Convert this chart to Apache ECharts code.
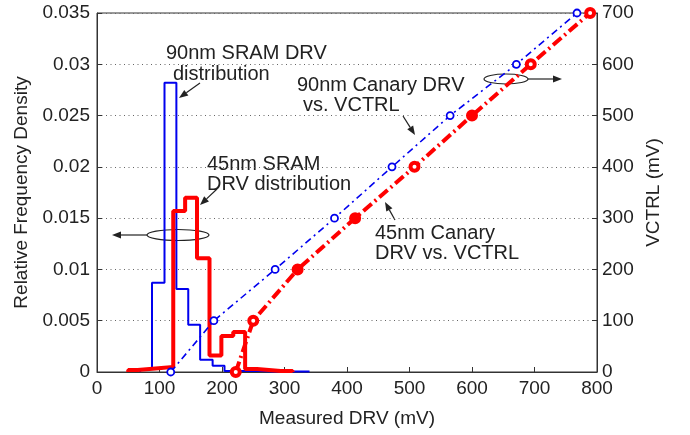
<!DOCTYPE html>
<html>
<head>
<meta charset="utf-8">
<script src="https://cdn.jsdelivr.net/npm/echarts@6/dist/echarts.min.js"></script>
<style>
  html, body { margin: 0; padding: 0; background: #fff; }
  #chart { width: 690px; height: 435px; }
</style>
</head>
<body>
<div id="chart"></div>
<script>
// histogram bins (mV edges) and relative frequency density
const blueEdges = [69, 88, 108, 127, 146, 165, 185, 204, 223, 242, 262, 281, 300, 320, 340];
const blueDensity = [0.0003, 0.0087, 0.0282, 0.0081, 0.0046, 0.0012, 0.0006, 0.0001, 0.0001, 0.0001, 0.00005, 0.00005, 0.00005, 0.00005];
const redEdges = [50, 65, 84, 103, 122, 141, 160, 180, 199, 218, 237, 256, 275, 294, 313];
const redDensity = [0.0002, 0.0003, 0.0004, 0.0005, 0.0157, 0.0170, 0.0111, 0.0016, 0.0035, 0.0039, 0.0003, 0.0002, 0.0001, 0.0001];

// canary DRV vs VCTRL
const vctrlLevels = [0, 100, 200, 300, 400, 500, 600, 700];
const blueCanaryDrv = [118, 187, 285, 380, 472, 565, 671, 768];
const redCanaryDrv = [222, 250, 321, 413, 508, 600, 694, 789];
const redFilledIdx = [2, 3, 5];

const FONT = 'Liberation Sans';
const TXT = '#222';

function stepPoints(edges, vals) {
  const pts = [[edges[0], 0]];
  vals.forEach((v, i) => pts.push([edges[i], v]));
  pts.push([edges[edges.length - 1], vals[vals.length - 1]]);
  pts.push([edges[edges.length - 1], 0]);
  return pts;
}

function arrow(x1, y1, x2, y2) {
  const a = Math.atan2(y2 - y1, x2 - x1);
  const L = 9, W = 3.5;
  const bx = x2 - L * Math.cos(a), by = y2 - L * Math.sin(a);
  const px = -Math.sin(a) * W, py = Math.cos(a) * W;
  return [
    { type: 'line', shape: { x1: x1, y1: y1, x2: bx, y2: by }, style: { stroke: '#222', lineWidth: 1.2 } },
    { type: 'polygon', shape: { points: [[x2, y2], [bx + px, by + py], [bx - px, by - py]] }, style: { fill: '#222' } }
  ];
}

function label(text, x, y, align) {
  return {
    type: 'text', x: x, y: y,
    style: { text: text, font: '20px ' + FONT, fill: TXT, align: align || 'left', verticalAlign: 'middle' }
  };
}

const chart = echarts.init(document.getElementById('chart'));

chart.setOption({
  animation: false,
  backgroundColor: '#fff',
  grid: { left: 97, right: 93, top: 13, bottom: 63, show: true, borderColor: '#333', borderWidth: 1 },
  xAxis: {
    type: 'value', min: 0, max: 800, interval: 100,
    name: 'Measured DRV (mV)', nameLocation: 'middle', nameGap: 37,
    nameTextStyle: { fontFamily: FONT, fontSize: 19, color: TXT },
    axisLine: { lineStyle: { color: '#333' } },
    axisTick: { inside: true, length: 5, lineStyle: { color: '#333' } },
    axisLabel: { fontFamily: FONT, fontSize: 19, color: TXT, margin: 7 },
    splitLine: { show: false }
  },
  yAxis: [{
    type: 'value', min: 0, max: 0.035, interval: 0.005,
    name: 'Relative Frequency Density', nameLocation: 'middle', nameGap: 66,
    nameTextStyle: { fontFamily: FONT, fontSize: 19, color: TXT },
    axisLine: { show: true, lineStyle: { color: '#333' } },
    axisTick: { show: true, inside: true, length: 5, lineStyle: { color: '#333' } },
    axisLabel: { fontFamily: FONT, fontSize: 19, color: TXT, margin: 7 },
    splitLine: { show: true, lineStyle: { color: '#666', type: [1, 3.5], width: 1 } }
  }, {
    type: 'value', min: 0, max: 700, interval: 100, position: 'right',
    name: 'VCTRL (mV)', nameLocation: 'middle', nameGap: 47,
    nameTextStyle: { fontFamily: FONT, fontSize: 19, color: TXT },
    axisLine: { show: true, lineStyle: { color: '#333' } },
    axisTick: { show: true, inside: true, length: 5, lineStyle: { color: '#333' } },
    axisLabel: { fontFamily: FONT, fontSize: 19, color: TXT, margin: 5 },
    splitLine: { show: false }
  }],
  series: [{
    name: '90nm SRAM DRV distribution', type: 'line', step: 'end',
    data: stepPoints(blueEdges, blueDensity),
    showSymbol: false, lineStyle: { color: '#0000ee', width: 2 }
  }, {
    name: '45nm SRAM DRV distribution', type: 'line', step: 'end',
    data: stepPoints(redEdges, redDensity),
    showSymbol: false, lineStyle: { color: '#ff0000', width: 4 }
  }, {
    name: '90nm Canary DRV vs. VCTRL', type: 'line', yAxisIndex: 1, clip: false,
    data: blueCanaryDrv.map((d, i) => [d, vctrlLevels[i]]),
    symbol: 'circle', symbolSize: 7,
    itemStyle: { color: '#fff', borderColor: '#0000ee', borderWidth: 1.8 },
    lineStyle: { color: '#0000ee', width: 1.6, type: [7, 4, 2, 4] }
  }, {
    name: '45nm Canary DRV vs. VCTRL', type: 'line', yAxisIndex: 1, clip: false,
    data: redCanaryDrv.map((d, i) => ({
      value: [d, vctrlLevels[i]],
      itemStyle: { color: redFilledIdx.includes(i) ? '#ff0000' : '#fff' }
    })),
    symbol: 'circle', symbolSize: 8,
    itemStyle: { borderColor: '#ff0000', borderWidth: 4 },
    lineStyle: { color: '#ff0000', width: 4, type: [11, 4, 2, 4] }
  }],
  graphic: [
    label('90nm SRAM DRV', 166, 53),
    label('distribution', 173, 74),
    ...arrow(200, 83, 179, 98),
    label('45nm SRAM', 207, 164),
    label('DRV distribution', 207, 184),
    ...arrow(217, 189, 200, 205),
    { type: 'ellipse', shape: { cx: 178, cy: 235, rx: 31, ry: 5.5 }, style: { stroke: '#222', fill: 'none', lineWidth: 1.2 } },
    ...arrow(147, 235, 112, 235),
    label('90nm Canary DRV', 297, 85),
    label('vs. VCTRL', 303, 105),
    ...arrow(403, 116, 415, 135),
    { type: 'ellipse', shape: { cx: 506, cy: 79, rx: 22, ry: 5 }, style: { stroke: '#222', fill: 'none', lineWidth: 1.2 } },
    ...arrow(528, 79, 562, 79),
    label('45nm Canary', 375, 233),
    label('DRV vs. VCTRL', 375, 253),
    ...arrow(395, 220, 385, 202)
  ]
});
</script>
</body>
</html>
